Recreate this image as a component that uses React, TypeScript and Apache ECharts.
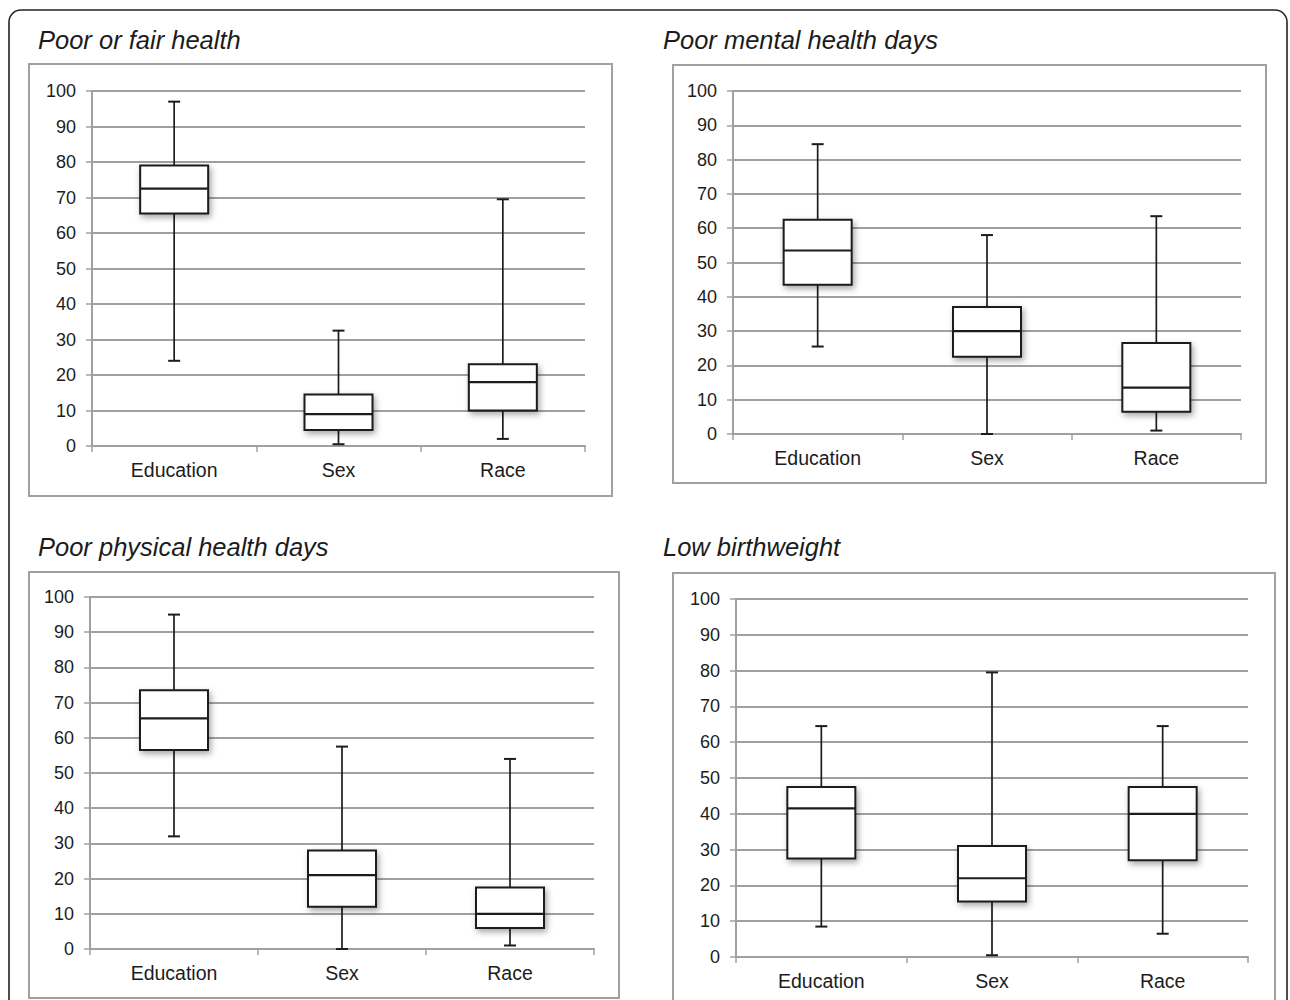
import React, { useEffect, useRef } from "react";
import * as echarts from "echarts";

// ---- data ----
const categories = ["Education", "Sex", "Race"];
const panelTitles = [
  "Poor or fair health",
  "Poor mental health days",
  "Poor physical health days",
  "Low birthweight",
];
const yMin = 0;
const yMax = 100;
const yStep = 10;

// each row: [min, Q1, median, Q3, max] for Education, Sex, Race
const poorFairHealth = [
  [24, 65.5, 72.5, 79, 97],
  [0.5, 4.5, 9, 14.5, 32.5],
  [2, 10, 18, 23, 69.5],
];
const poorMentalHealthDays = [
  [25.5, 43.5, 53.5, 62.5, 84.5],
  [0, 22.5, 30, 37, 58],
  [1, 6.5, 13.5, 26.5, 63.5],
];
const poorPhysicalHealthDays = [
  [32, 56.5, 65.5, 73.5, 95],
  [0, 12, 21, 28, 57.5],
  [1, 6, 10, 17.5, 54],
];
const lowBirthweight = [
  [8.5, 27.5, 41.5, 47.5, 64.5],
  [0.5, 15.5, 22, 31, 79.5],
  [6.5, 27, 40, 47.5, 64.5],
];
const panelData = [poorFairHealth, poorMentalHealthDays, poorPhysicalHealthDays, lowBirthweight];

// ---- layout (pixels) ----
const grids = [
  { left: 92, top: 91, width: 493, height: 355 },
  { left: 733, top: 91, width: 508, height: 343 },
  { left: 90, top: 597, width: 504, height: 352 },
  { left: 736, top: 599, width: 512, height: 358 },
];
const panelBoxes = [
  { x: 29, y: 64, w: 583, h: 432 },
  { x: 673, y: 65, w: 593, h: 418 },
  { x: 29, y: 572, w: 590, h: 426 },
  { x: 673, y: 573, w: 602, h: 440 },
];
const titlePos = [
  { x: 38, y: 39.5 },
  { x: 663, y: 39.5 },
  { x: 38, y: 546.5 },
  { x: 663, y: 546.5 },
];

const FONT = "'Liberation Sans', Arial, Helvetica, sans-serif";
const GRID_COLOR = "#a0a0a0";
const INK = "#1c1c1c";

export default function App() {
  const ref = useRef<HTMLDivElement>(null);

  useEffect(() => {
    if (!ref.current) return;
    const chart = echarts.init(ref.current, null, { renderer: "svg" });

    const renderItem = (params: any, api: any) => {
      const idx = api.value(0);
      const pMin = api.coord([idx, api.value(1)]);
      const pQ1 = api.coord([idx, api.value(2)]);
      const pMed = api.coord([idx, api.value(3)]);
      const pQ3 = api.coord([idx, api.value(4)]);
      const pMax = api.coord([idx, api.value(5)]);
      const x = pMed[0];
      const bw = 68;
      const cw = 12;
      const lineStyle = { stroke: INK, lineWidth: 1.7 };
      return {
        type: "group",
        children: [
          { type: "line", shape: { x1: x, y1: pMax[1], x2: x, y2: pQ3[1] }, style: lineStyle },
          { type: "line", shape: { x1: x, y1: pQ1[1], x2: x, y2: pMin[1] }, style: lineStyle },
          { type: "line", shape: { x1: x - cw / 2, y1: pMax[1], x2: x + cw / 2, y2: pMax[1] }, style: { stroke: INK, lineWidth: 2 } },
          { type: "line", shape: { x1: x - cw / 2, y1: pMin[1], x2: x + cw / 2, y2: pMin[1] }, style: { stroke: INK, lineWidth: 2 } },
          {
            type: "rect",
            shape: { x: x - bw / 2, y: pQ3[1], width: bw, height: pQ1[1] - pQ3[1] },
            style: {
              fill: "#ffffff",
              stroke: INK,
              lineWidth: 2,
              shadowBlur: 6,
              shadowOffsetX: 2,
              shadowOffsetY: 3,
              shadowColor: "rgba(0,0,0,0.35)",
            },
          },
          { type: "line", shape: { x1: x - bw / 2, y1: pMed[1], x2: x + bw / 2, y2: pMed[1] }, style: { stroke: INK, lineWidth: 2.2 } },
        ],
      };
    };

    const graphic: any[] = [
      {
        type: "rect",
        shape: { x: 9, y: 10, width: 1278, height: 1010, r: 12 },
        style: { fill: "none", stroke: "#222", lineWidth: 1.6 },
        z: 0,
      },
    ];
    panelBoxes.forEach((b) => {
      graphic.push({
        type: "rect",
        shape: { x: b.x, y: b.y, width: b.w, height: b.h },
        style: { fill: "none", stroke: "#a0a0a0", lineWidth: 2 },
        z: 0,
      });
    });
    panelTitles.forEach((t, i) => {
      graphic.push({
        type: "text",
        x: titlePos[i].x,
        y: titlePos[i].y,
        style: {
          text: t,
          font: `italic 25.5px ${FONT}`,
          fill: INK,
          textVerticalAlign: "middle",
          textAlign: "left",
        },
      });
    });

    const option: any = {
      animation: false,
      backgroundColor: "#ffffff",
      grid: grids.map((g) => ({ ...g, containLabel: false })),
      xAxis: grids.map((_, i) => ({
        type: "category",
        gridIndex: i,
        data: categories,
        boundaryGap: true,
        axisLine: { show: true, lineStyle: { color: GRID_COLOR, width: 2 } },
        axisTick: { show: true, length: 6, lineStyle: { color: GRID_COLOR, width: 1.5 } },
        axisLabel: { color: INK, fontSize: 19.5, fontFamily: FONT, margin: 14 },
        splitLine: { show: false },
      })),
      yAxis: grids.map((_, i) => ({
        type: "value",
        gridIndex: i,
        min: yMin,
        max: yMax,
        interval: yStep,
        axisLine: { show: true, lineStyle: { color: GRID_COLOR, width: 2 } },
        axisTick: { show: true, length: 6, lineStyle: { color: GRID_COLOR, width: 1.5 } },
        axisLabel: { color: INK, fontSize: 18, fontFamily: FONT, margin: 16 },
        splitLine: { show: true, lineStyle: { color: GRID_COLOR, width: 2 } },
      })),
      graphic,
      series: panelData.map((rows, i) => ({
        type: "custom",
        xAxisIndex: i,
        yAxisIndex: i,
        renderItem,
        encode: { x: 0, y: [1, 2, 3, 4, 5] },
        data: rows.map((r, k) => [k, ...r]),
        z: 5,
      })),
    };

    chart.setOption(option);
    return () => chart.dispose();
  }, []);

  return (
    <div
      ref={ref}
      style={{ position: "fixed", left: 0, top: 0, width: 1290, height: 1000, background: "#fff" }}
    />
  );
}
